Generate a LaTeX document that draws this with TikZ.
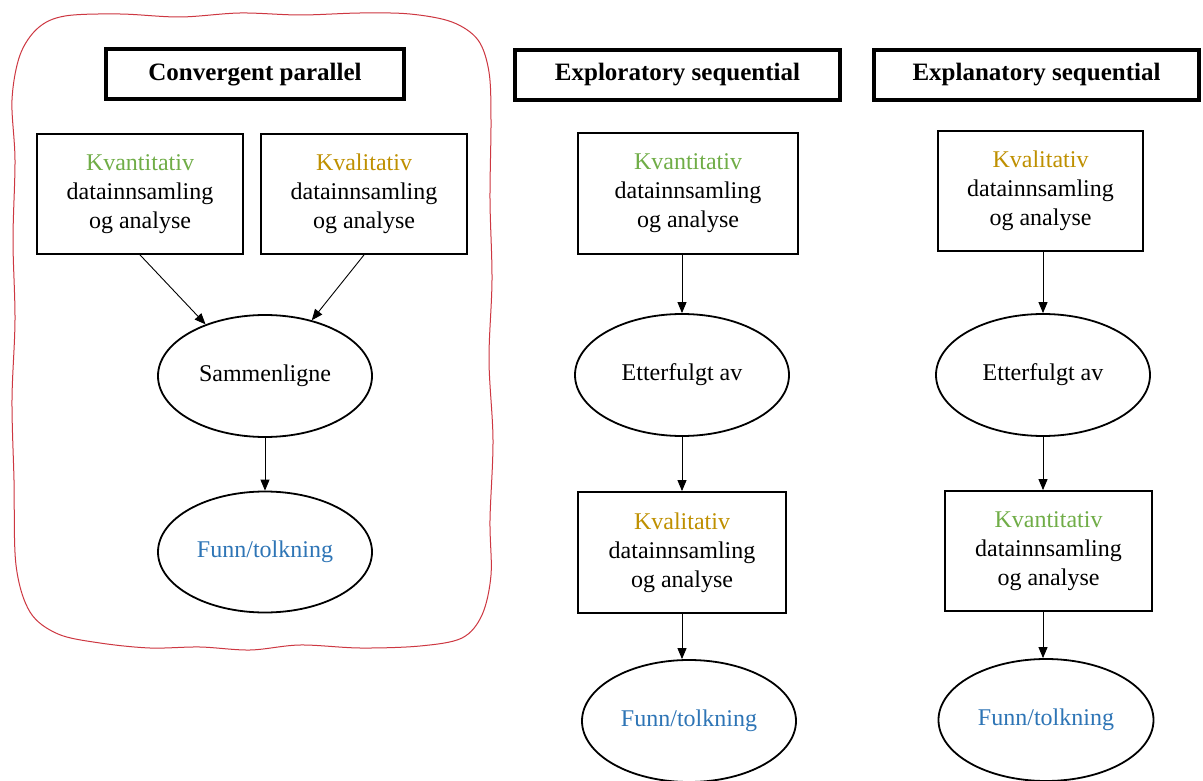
\documentclass[tikz,border=0pt]{standalone}
\usepackage{fontspec}
\setmainfont{Liberation Serif}
\usetikzlibrary{shapes.geometric,arrows.meta}
\definecolor{kvant}{RGB}{112,173,71}
\definecolor{kval}{RGB}{191,144,0}
\definecolor{funn}{RGB}{46,117,182}
\definecolor{wavy}{RGB}{205,55,65}
\newcommand{\up}[1]{\raisebox{5pt}{#1}}
\begin{document}
\begin{tikzpicture}[x=1pt,y=-1pt,
  every node/.style={font=\fontsize{24}{29}\selectfont, inner sep=0pt},
  titlebox/.style={draw, line width=4pt, minimum width=325pt, minimum height=50pt, font=\fontsize{25}{29}\selectfont\bfseries},
  databox/.style={draw, line width=1.8pt, minimum height=120pt, align=center},
  oval/.style={draw, ellipse, line width=1.8pt, minimum width=214pt, minimum height=122pt},
  arr/.style={line width=0.9pt, -{Triangle[length=11pt,width=9pt]}}
]
\useasboundingbox (0,0) rectangle (1203,781);
\fill[white] (0,0) rectangle (1203,781);

% red wavy frame
\draw[wavy, line width=1pt] plot[smooth cycle, tension=0.55] coordinates {
 (65,16) (120,14) (180,17) (240,13) (300,15) (360,13) (410,14) (452,22) (478,40) (489,72)
 (491,120) (490,200) (492,280) (489,360) (493,440) (490,520) (491,575) (482,615) (462,638)
 (420,646) (360,648) (300,645) (250,650) (200,647) (150,648) (100,643) (58,634) (30,612)
 (16,565) (14,480) (12,400) (15,320) (13,240) (15,160) (12,100) (20,55) (38,28)};

% column 1: convergent parallel
\node[titlebox, minimum width=298pt] (t1) at (255,74.5) {Convergent parallel};
\node[databox, minimum width=206pt] (a1) at (140,194) {\textcolor{kvant}{Kvantitativ}\\datainnsamling\\og analyse};
\node[databox, minimum width=206pt] (a2) at (364,194) {\textcolor{kval}{Kvalitativ}\\datainnsamling\\og analyse};
\node[oval] (a3) at (265,376) {\up{Sammenligne}};
\node[oval, minimum height=121pt] (a4) at (265,552) {\up{\textcolor{funn}{Funn/tolkning}}};
\draw[arr] (a1.south) -- (a3.139);
\draw[arr] (a2.south) -- (a3.50);
\draw[arr] (a3.south) -- (a4.north);

% column 2: exploratory sequential
\node[titlebox] (t2) at (677.5,75) {Exploratory sequential};
\node[databox, minimum width=220pt, minimum height=121pt] (b1) at (688,193.5) {\textcolor{kvant}{Kvantitativ}\\datainnsamling\\og analyse};
\node[oval] (b2) at (682,375) {\up{Etterfulgt av}};
\node[databox, minimum width=208pt, minimum height=121pt] (b3) at (682,552.5) {\textcolor{kval}{Kvalitativ}\\datainnsamling\\og analyse};
\node[oval] (b4) at (689,721) {\up{\textcolor{funn}{Funn/tolkning}}};
\draw[arr] (b1.south -| b2.north) -- (b2.north);
\draw[arr] (b2.south) -- (b3.north);
\draw[arr] (b3.south) -- (b3.south |- b4.north);

% column 3: explanatory sequential
\node[titlebox] (t3) at (1036.5,75) {Explanatory sequential};
\node[databox, minimum width=205pt] (c1) at (1040.5,191) {\textcolor{kval}{Kvalitativ}\\datainnsamling\\og analyse};
\node[oval] (c2) at (1043,375) {\up{Etterfulgt av}};
\node[databox, minimum width=207pt] (c3) at (1048.5,551) {\textcolor{kvant}{Kvantitativ}\\datainnsamling\\og analyse};
\node[oval, minimum width=215pt] (c4) at (1046,720) {\up{\textcolor{funn}{Funn/tolkning}}};
\draw[arr] (c1.south -| c2.north) -- (c2.north);
\draw[arr] (c2.south) -- (c2.south |- c3.north);
\draw[arr] (c3.south -| c2.south) -- (c2.south |- c4.north);
\end{tikzpicture}
\end{document}
